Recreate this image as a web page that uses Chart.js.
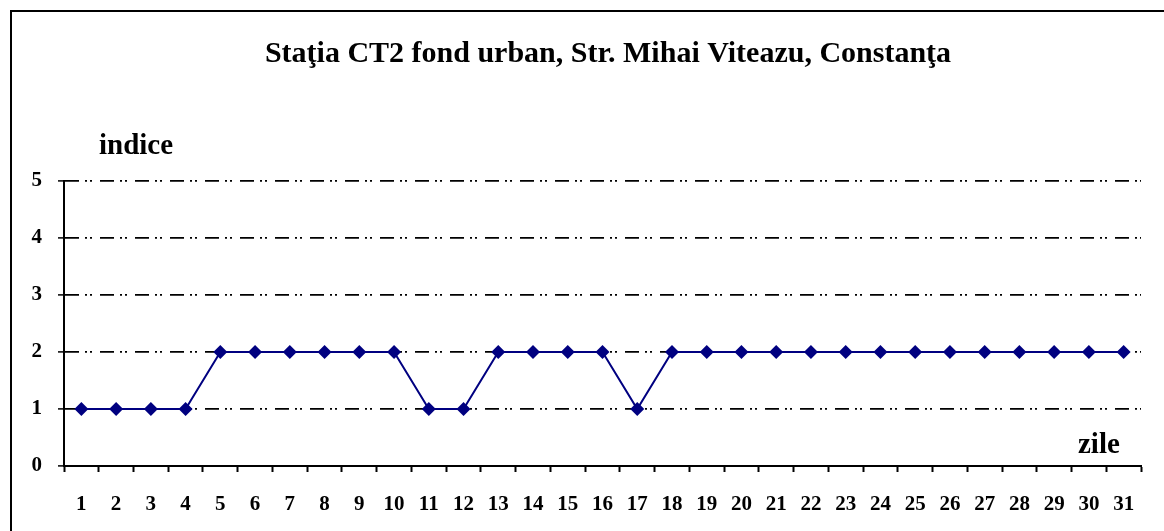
<!DOCTYPE html>
<html>
<head>
<meta charset="utf-8">
<script src="https://cdn.jsdelivr.net/npm/chart.js@4/dist/chart.umd.min.js"></script>
<style>
  html, body { margin: 0; padding: 0; background: #fff; overflow: hidden; }
  #wrap { position: relative; width: 1164px; height: 531px; }
  #frame {
    position: absolute; left: 10px; top: 10px; width: 1300px; height: 700px;
    border-top: 2px solid #000; border-left: 2px solid #000;
  }
  canvas { position: absolute; left: 0; top: 0; }
</style>
</head>
<body>
<div id="wrap">
  <div id="frame"></div>
  <canvas id="indexChart" width="1164" height="531"></canvas>
</div>
<script>
const titleText = "Staţia CT2 fond urban, Str. Mihai Viteazu, Constanţa";
const yTitle = "indice";
const xTitle = "zile";
const days = ["1", "2", "3", "4", "5", "6", "7", "8", "9", "10", "11", "12", "13", "14", "15", "16",
  "17", "18", "19", "20", "21", "22", "23", "24", "25", "26", "27", "28", "29", "30", "31"];
const indexValues = [1, 1, 1, 1, 2, 2, 2, 2, 2, 2, 1, 1, 2, 2, 2, 2,
  1, 2, 2, 2, 2, 2, 2, 2, 2, 2, 2, 2, 2, 2, 2];
const yTicks = [0, 1, 2, 3, 4, 5];

const serif = "'Liberation Serif', 'Times New Roman', serif";

// titles drawn on the canvas after the chart
const textPlugin = {
  id: "texts",
  afterDraw(chart) {
    const ctx = chart.ctx;
    ctx.save();
    ctx.fillStyle = "#000";
    ctx.textBaseline = "alphabetic";
    ctx.font = "bold 30px " + serif;
    ctx.textAlign = "center";
    ctx.fillText(titleText, 608, 62);
    ctx.font = "bold 29px " + serif;
    ctx.textAlign = "left";
    ctx.fillText(yTitle, 99, 154);
    ctx.fillText(xTitle, 1078, 453);
    ctx.restore();
  }
};

const ctx = document.getElementById("indexChart").getContext("2d");
new Chart(ctx, {
  type: "line",
  data: {
    labels: days,
    datasets: [{
      data: indexValues,
      borderColor: "#000080",
      backgroundColor: "#000080",
      borderWidth: 2,
      pointStyle: "rectRot",
      pointRadius: 7,
      pointBorderWidth: 0,
      tension: 0
    }]
  },
  options: {
    responsive: false,
    animation: false,
    layout: { padding: { top: 181, right: 23, left: 0, bottom: 0 } },
    plugins: {
      legend: { display: false },
      tooltip: { enabled: false }
    },
    scales: {
      x: {
        offset: true,
        afterFit(scale) { scale.height = 65; },
        grid: {
          offset: true,
          drawOnChartArea: false,
          drawTicks: true,
          tickLength: 6,
          tickColor: "#000",
          tickWidth: 2
        },
        border: { display: true, color: "#000", width: 2 },
        ticks: {
          autoSkip: false,
          maxRotation: 0,
          padding: 20,
          color: "#000",
          font: { family: serif, size: 21, weight: "bold" }
        }
      },
      y: {
        min: 0,
        max: 5,
        afterFit(scale) { scale.width = 64; },
        afterBuildTicks(scale) { scale.ticks = yTicks.map(v => ({ value: v })); },
        grid: {
          color: (c) => (c.tick && c.tick.value === 0 ? "rgba(0,0,0,0)" : "#000"),
          lineWidth: 1.8,
          drawTicks: true,
          tickLength: 6,
          tickColor: "#000",
          tickWidth: 1.5
        },
        border: { display: true, color: "#000", width: 2, dash: [14, 6, 2, 3, 2, 8] },
        ticks: {
          padding: 16,
          color: "#000",
          font: { family: serif, size: 21, weight: "bold" }
        }
      }
    }
  },
  plugins: [textPlugin]
});
</script>
</body>
</html>
